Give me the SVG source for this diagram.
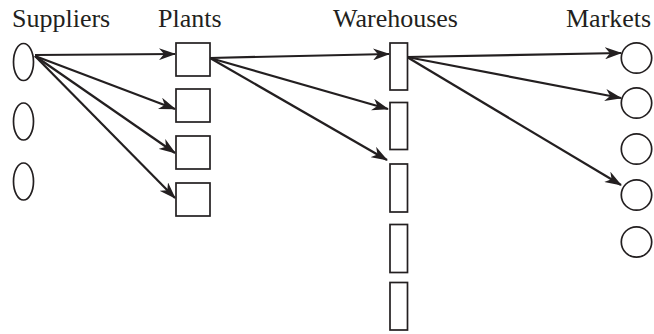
<svg xmlns="http://www.w3.org/2000/svg" width="654" height="334" viewBox="0 0 654 334">
<style>
.lbl{font-family:"Liberation Serif","Times New Roman",serif;font-size:26px;fill:#231f20}
.n{fill:#fff;stroke:#231f20;stroke-width:1.7}
.c{stroke:#231f20;stroke-width:2.2;fill:none;marker-end:url(#ah)}
</style>
<defs>
<marker id="ah" markerUnits="userSpaceOnUse" markerWidth="17" markerHeight="12" refX="16" refY="6" orient="auto" viewBox="0 0 17 12">
<path d="M0,0 L17,6 L0,12 L5,6 z" fill="#231f20"/>
</marker>
</defs>
<rect width="654" height="334" fill="#fff"/>
<text class="lbl" x="12" y="27">Suppliers</text>
<text class="lbl" x="158" y="27">Plants</text>
<text class="lbl" x="333" y="27">Warehouses</text>
<text class="lbl" x="566" y="27">Markets</text>
<g id="connectors">
<line class="c" x1="35" y1="55" x2="175" y2="54"/>
<line class="c" x1="35" y1="56" x2="175" y2="109"/>
<line class="c" x1="35" y1="56" x2="175" y2="153"/>
<line class="c" x1="35" y1="56" x2="175" y2="198"/>
<line class="c" x1="210" y1="58" x2="389" y2="54"/>
<line class="c" x1="210" y1="58" x2="388" y2="109"/>
<line class="c" x1="210" y1="58" x2="387" y2="160"/>
<line class="c" x1="407" y1="57" x2="621" y2="53"/>
<line class="c" x1="407" y1="57" x2="621" y2="98"/>
<line class="c" x1="407" y1="57" x2="621" y2="185"/>
</g>
<g id="supplier1"><ellipse class="n" cx="23.5" cy="62" rx="10" ry="18.5"/></g>
<g id="supplier2"><ellipse class="n" cx="23.5" cy="121.5" rx="10" ry="18.5"/></g>
<g id="supplier3"><ellipse class="n" cx="23.5" cy="181.5" rx="10" ry="18.5"/></g>
<g id="plant1"><rect class="n" x="176" y="43" width="34" height="33"/></g>
<g id="plant2"><rect class="n" x="176" y="89" width="34" height="33"/></g>
<g id="plant3"><rect class="n" x="176" y="136" width="34" height="33"/></g>
<g id="plant4"><rect class="n" x="176" y="183" width="34" height="33"/></g>
<g id="warehouse1"><rect class="n" x="390" y="43" width="17.5" height="47"/></g>
<g id="warehouse2"><rect class="n" x="390" y="102.5" width="17.5" height="47"/></g>
<g id="warehouse3"><rect class="n" x="390" y="164" width="17.5" height="48"/></g>
<g id="warehouse4"><rect class="n" x="390" y="224.5" width="17.5" height="48"/></g>
<g id="warehouse5"><rect class="n" x="390" y="282.5" width="17.5" height="47.5"/></g>
<g id="market1"><circle class="n" cx="636.5" cy="58" r="15.2"/></g>
<g id="market2"><circle class="n" cx="636.5" cy="103" r="15.2"/></g>
<g id="market3"><circle class="n" cx="636.5" cy="149" r="15.2"/></g>
<g id="market4"><circle class="n" cx="636.5" cy="195" r="15.2"/></g>
<g id="market5"><circle class="n" cx="636.5" cy="242" r="15.2"/></g>
</svg>
